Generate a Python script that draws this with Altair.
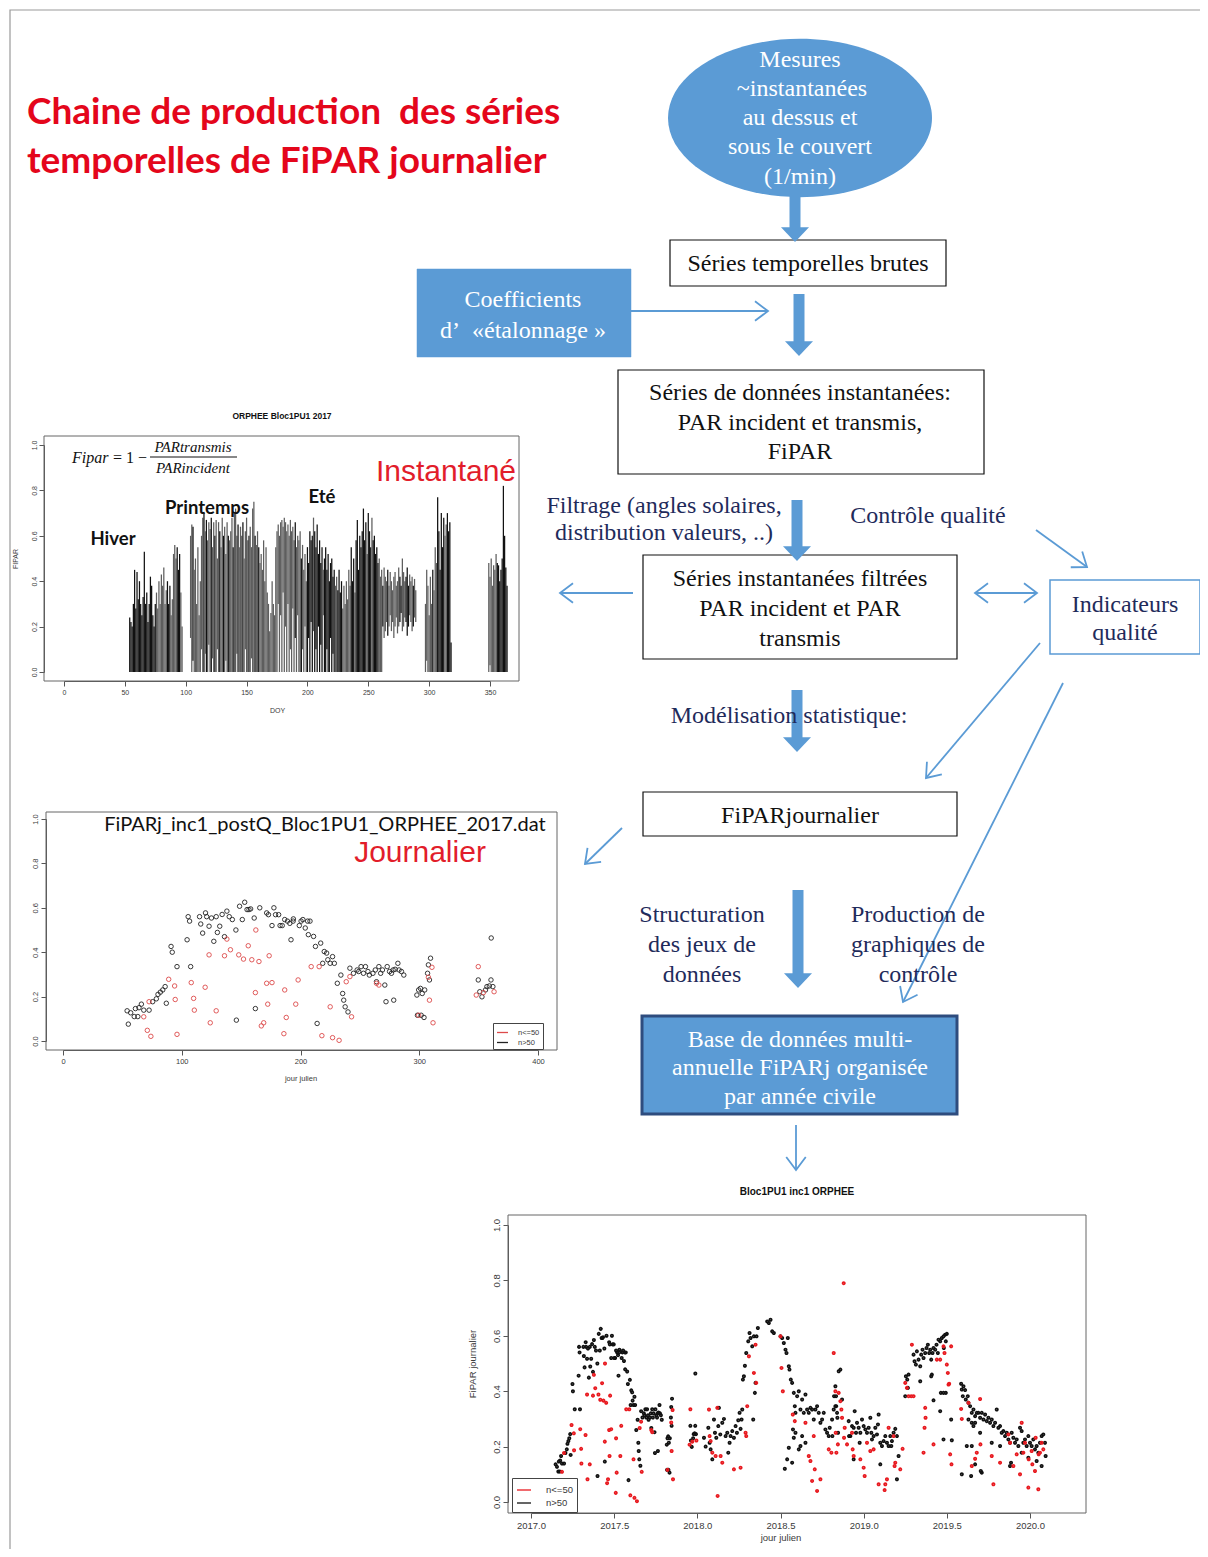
import math
import altair as alt
import pandas as pd

W, H = 1192, 1541
OFF = 8

BLUE = "#5b9bd5"
BLUE_DARK = "#2e4c7e"
NAVY = "#1f2b5b"
TITLE_RED = "#e4061b"
LABEL_RED = "#e21d2b"
PT_RED = "#e8191f"
OPEN_RED = "#dd4a4a"
AX = "#555555"
SERIF = "Liberation Serif"
SANS = "Liberation Sans"
FS = 24

# ---------------- flowchart texts ----------------
TITLE_LINES = ["Chaine de production\u00a0 des séries", "temporelles de FiPAR journalier"]
ELLIPSE_LINES = ["Mesures", "~instantanées", "au dessus et", "sous le couvert", "(1/min)"]
COEF_LINES = ["Coefficients", "d’\u00a0 «étalonnage »"]
BASE_LINES = ["Base de données multi-", "annuelle FiPARj organisée", "par année civile"]
BOX_TEXT_LINES = ["Séries temporelles brutes", "Séries de données instantanées:",
                  "PAR incident et transmis,", "FiPAR", "Séries instantanées filtrées",
                  "PAR incident et PAR", "transmis", "FiPARjournalier"]
NOTE_LINES = ["Filtrage (angles solaires,", "distribution valeurs, ..)", "Contrôle qualité",
              "Indicateurs", "qualité", "Modélisation statistique:", "Structuration",
              "des jeux de", "données", "Production de", "graphiques de", "contrôle"]
SEASON_LABELS = ["Hiver", "Printemps", "Eté"]
PLOT_TAGS = ["Instantané", "Journalier"]
FILE_LABEL = ["FiPARj_inc1_postQ_Bloc1PU1_ORPHEE_2017.dat"]
PLOT_TITLES = ["ORPHEE Bloc1PU1 2017", "Bloc1PU1 inc1 ORPHEE"]
FORMULA = ["Fipar", "= 1 −", "PARtransmis", "PARincident"]

# ---------------- instantaneous FiPAR 2017 (daily envelope, DOY) ----------------
INST_SPANS = [(54, 97), (104, 289), (297, 318), (349, 364)]
INST_MAX_A = [.24, .22, .20, .30, .45, .28, .44, .32, .40, .30,
              .25, .33, .53, .30, .35, .22, .30, .42, .38, .25,
              .20, .30, .35, .28, .40, .30, .43, .38, .46, .30,
              .36, .40, .30, .38, .25, .32, .52, .56, .50, .55,
              .45, .52, .35, .20]
INST_MAX_B = [.60, .65, .64, .45, .50, .30, .55, .25, .40,
              .60, .68, .70, .62, .67, .58, .66, .63, .68, .55, .66,
              .60, .67, .50, .66, .62, .55, .68, .60, .64, .52,
              .66, .60, .58, .62, .68, .55, .70, .72, .60, .65,
              .55, .64, .60, .66, .50, .62, .68, .58, .60, .64,
              .55, .72, .75, .60, .56, .62, .55, .48, .52, .45,
              .58, .40, .55, .35, .30, .18, .26, .40, .30, .25,
              .55, .62, .65, .60, .66, .67, .64, .68, .66, .62,
              .65, .60, .67, .62, .64, .58, .66, .55, .60, .58,
              .62, .50, .56, .45, .52, .40, .55, .48, .62, .58,
              .60, .68, .62, .55, .65, .52, .58, .48, .55, .45,
              .50, .55, .45, .52, .40, .48, .50, .42, .45, .38,
              .42, .36, .45, .35, .40, .28, .38, .30, .40, .32,
              .45, .38, .55, .40, .50, .35, .58, .67, .45, .60,
              .55, .62, .72, .58, .66, .52, .70, .62, .55, .68,
              .58, .60, .52, .55, .48, .50, .42, .45, .38, .46,
              .42, .40, .45, .38, .44, .40, .36, .42, .44, .38,
              .40, .46, .42, .38, .50, .44, .40, .42, .46, .38,
              .43, .40, .42, .38, .41, .36]
INST_MAX_C = [.30, .45, .38, .25, .42, .30, .45, .36, .55, .48,
              .77, .62, .45, .70, .55, .68, .60, .65, .70, .62,
              .66, .13]
INST_MAX_D = [.48, .42, .50, .38, .47, .45, .52, .48, .47, .40,
              .45, .50, .82, .60, .46, .38]
INST_MIN = {104: .15, 106: .05, 113: .10, 116: .08, 119: .12, 122: .06, 126: .10, 133: .05,
            142: .08, 149: .10, 154: .06, 176: .30, 178: .25, 180: .35, 182: .20, 184: .30,
            186: .10, 188: .28, 190: .15, 192: .25, 196: .10, 198: .20, 201: .15, 203: .22,
            205: .18, 207: .10, 209: .20, 211: .12, 213: .25, 216: .10, 219: .15, 221: .08,
            262: .20, 263: .15, 264: .18, 265: .22, 266: .16, 267: .20, 268: .25, 269: .18,
            270: .22, 271: .15, 272: .20, 273: .24, 274: .17, 275: .20, 276: .22, 277: .26,
            278: .18, 279: .20, 280: .24, 281: .22, 282: .16, 283: .20, 284: .25, 285: .22,
            286: .18, 287: .20, 288: .24, 289: .22, 298: .05, 350: .03}
INST_BLACK_SPANS = [(54, 75), (85, 87), (93, 95), (106, 106), (115, 115), (117, 117), (121, 121),
                    (124, 124), (128, 128), (131, 131), (135, 135), (139, 139), (143, 143),
                    (147, 147), (152, 152), (157, 157), (160, 160), (190, 190), (195, 195),
                    (200, 204), (206, 212), (214, 222), (225, 228), (236, 238), (240, 248),
                    (250, 252), (254, 258), (262, 262), (266, 266), (276, 277), (281, 283),
                    (287, 287), (303, 303), (307, 312), (315, 318), (356, 364)]

# ---------------- daily FiPAR 2017 (DOY, value) ----------------
DAILY_BLACK_DOY = [55, 54, 57, 60, 61, 63, 64, 66, 68, 72.5, 75.5, 78.6, 80, 82, 84, 86, 87, 91, 92, 96,
                   104.5, 105.4, 106.6, 107.5, 115, 116, 117.6, 120, 121, 123, 125, 127, 129, 130, 132,
                   134, 136, 138, 140, 142.6, 145.6, 146, 148.7, 151, 153, 155, 156.6, 158, 161, 162,
                   165.7, 171.5, 173, 177.6, 176, 179, 181.6, 182.8, 184.6, 186.7, 189, 191, 193.8, 192,
                   194, 199, 200.5, 202, 204, 206, 208, 206.6, 211, 212.6, 214, 217, 218.7, 220, 222,
                   223, 225, 227, 228.5, 231, 234, 235.5, 236.4, 237.6, 240, 241.6, 244.6, 247.7, 249,
                   251, 253, 254.7, 256.8, 258, 261, 263, 264, 266, 267.5, 269, 271, 273, 275, 276.6,
                   278, 279.7, 282, 283, 285, 287, 272, 278.5, 298, 299.5, 301, 302.5, 304.6, 298.5,
                   301.6, 304, 307, 307.7, 308.6, 309.5, 349.7, 351, 352.8, 355.8, 357, 359, 360.4,
                   360.6, 362]
DAILY_BLACK_VAL = [.076, .136, .127, .11, .146, .11, .15, .166, .139, .139, .177, .19, .21, .22, .23, .245,
                   .17, .426, .40, .335, .456, .56, .54, .335, .56, .527, .486, .577, .56, .517, .554,
                   .449, .56, .489, .517, .57, .47, .585, .56, .547, .50, .094, .607, .547, .625, .592,
                   .592, .595, .554, .146, .60, .577, .569, .60, .52, .569, .569, .52, .52, .547, .54,
                   .53, .54, .456, .55, .52, .54, .547, .509, .54, .54, .479, .471, .426, .079, .441,
                   .35, .403, .396, .366, .35, .38, .35, .26, .297, .214, .184, .154, .131, .328, .305,
                   .32, .313, .335, .305, .335, .313, .297, .305, .32, .267, .335, .305, .32, .252, .335,
                   .313, .305, .32, .323, .35, .32, .313, .297, .177, .184, .207, .23, .237, .214, .23,
                   .116, .116, .106, .305, .343, .275, .373, .275, .222, .199, .23, .245, .248, .275,
                   .464, .245]
DAILY_RED_DOY = [68, 71, 72.5, 74, 89, 94, 94.5, 96, 108, 110, 110.6, 119.7, 123, 124, 129, 136, 141,
                 138, 148, 152, 156, 159, 162, 162.4, 165, 167, 169, 171.5, 172.4, 173.6, 176, 186,
                 186.7, 188, 196, 198, 209, 215.7, 218, 225, 227, 232.5, 238.5, 241.6, 243, 264, 266,
                 299.5, 307.7, 308.6, 310.7, 311.6, 348, 349.7, 354, 363]
DAILY_RED_VAL = [.109, .048, .177, .021, .278, .248, .187, .03, .263, .192, .139, .242, .388, .082, .136,
                 .384, .411, .459, .388, .369, .429, .366, .218, .50, .358, .068, .082, .26, .166, .384,
                 .263, .033, .23, .106, .166, .275, .335, .335, .024, .154, .015, .003, .267, .29, .109,
                 .26, .252, .116, .287, .184, .332, .082, .207, .335, .218, .222]

# ---------------- multi-year FiPARj 2018-2020 (decimal year, value) ----------------
MULTI_BLACK_T = [2018.04, 2018.05, 2018.066, 2018.074, 2018.08, 2018.09, 2018.10, 2018.106, 2018.114,
                 2018.126, 2018.13, 2018.138, 2018.15, 2018.16, 2018.17, 2018.18, 2018.186, 2018.194,
                 2018.20, 2018.21, 2018.22, 2018.23, 2018.238, 2018.246, 2018.254, 2018.26, 2018.27,
                 2018.266, 2018.274, 2018.28, 2018.286, 2018.294, 2018.306, 2018.314, 2018.32, 2018.33,
                 2018.34, 2018.336, 2018.346, 2018.35, 2018.356, 2018.364, 2018.42, 2018.43, 2018.44,
                 2018.45, 2018.46, 2018.50, 2018.51, 2018.52, 2018.53, 2018.536, 2018.544, 2018.55,
                 2018.554, 2018.562, 2018.57, 2018.58, 2018.586, 2018.59, 2018.55, 2018.54, 2018.526,
                 2018.57, 2018.60, 2018.61, 2018.62, 2018.63, 2018.64, 2018.65, 2018.66, 2018.67,
                 2018.68, 2018.69, 2018.70, 2018.71, 2018.72, 2018.73, 2018.74, 2018.75, 2018.76,
                 2018.77, 2018.78, 2018.79, 2018.796, 2018.59, 2018.575, 2018.58, 2018.63, 2018.65,
                 2018.62, 2018.61, 2018.81, 2018.82, 2018.83, 2018.834, 2018.84, 2018.846, 2018.812,
                 2018.822, 2018.83, 2018.835, 2018.85, 2018.86, 2018.842, 2018.87,
                 2018.91, 2018.92, 2018.93, 2018.94, 2018.946, 2018.954, 2018.96, 2018.97, 2018.98,
                 2018.99, 2019.0, 2019.01, 2019.02, 2019.03, 2019.04, 2019.046, 2019.05, 2019.06,
                 2019.07, 2019.08, 2019.086, 2019.09, 2019.10, 2019.11, 2019.12, 2019.13, 2019.14,
                 2019.15, 2019.16, 2019.17, 2019.18, 2019.19, 2019.20, 2019.166, 2018.94, 2019.10,
                 2019.21, 2019.20, 2018.976, 2018.912,
                 2019.254, 2019.262, 2019.266, 2019.25, 2019.27, 2019.30, 2019.306, 2019.314, 2019.32,
                 2019.33, 2019.34, 2019.346, 2019.354, 2019.36, 2019.37, 2019.378, 2019.386, 2019.394,
                 2019.40, 2019.406, 2019.414, 2019.42, 2019.43, 2019.438, 2019.446, 2019.45, 2019.46,
                 2019.47, 2019.48, 2019.49, 2019.50, 2019.494, 2019.482, 2019.34, 2019.406, 2019.41,
                 2019.42, 2019.46, 2019.464, 2019.48, 2019.494, 2019.48, 2019.526, 2019.53,
                 2019.586, 2019.59, 2019.596, 2019.60, 2019.61, 2019.614, 2019.626, 2019.63, 2019.64,
                 2019.65, 2019.66, 2019.67, 2019.68, 2019.69, 2019.70, 2019.71, 2019.72, 2019.73,
                 2019.74, 2019.75, 2019.76, 2019.77, 2019.78, 2019.79, 2019.80, 2019.81, 2019.82,
                 2019.83, 2019.84, 2019.85, 2019.86, 2019.87, 2019.88, 2019.89, 2019.90, 2019.91,
                 2019.92, 2019.93, 2019.94, 2019.95, 2019.96, 2019.97, 2019.98, 2019.99, 2020.0,
                 2020.01, 2020.02, 2020.03, 2020.04, 2020.05, 2020.06, 2020.07, 2020.08, 2020.09,
                 2020.094, 2020.07, 2020.04, 2019.99, 2019.95, 2019.886, 2019.88, 2019.82, 2019.77,
                 2019.70, 2019.65, 2019.67, 2019.62, 2019.65, 2019.67, 2019.704, 2019.71, 2019.646,
                 2019.59, 2019.63, 2019.66]
MULTI_BLACK_V = [.232, .20, .268, .214, .19, .154, .298, .25, .232,
                 .274, .34, .244, .286, .30, .238, .25, .178, .214,
                 .238, .256, .232, .274, .25, .295, .322, .264, .334,
                 .298, .442, .454, .492, .538, .58, .61, .592, .562,
                 .598, .298, .394, .43, .598, .628, .652, .646, .658,
                 .616, .61, .598, .592, .574, .55, .538, .592, .49,
                 .478, .442, .43, .394, .346, .322, .196, .154, .12,
                 .142, .382, .40, .334, .37, .322, .388, .334, .322,
                 .34, .334, .298, .334, .346, .322, .286, .298, .322,
                 .262, .25, .238, .268, .25, .262, .232, .238, .214,
                 .202, .19, .298, .334, .346, .382, .322, .25, .238,
                 .382, .418, .346, .472, .478, .304, .37,
                 .292, .238, .274, .268, .328, .25, .286, .268, .25,
                 .298, .274, .262, .25, .268, .304, .25, .226, .238,
                 .268, .244, .28, .316, .214, .202, .22, .238, .214,
                 .202, .238, .22, .25, .264, .238, .202, .154, .136,
                 .166, .082, .214, .238,
                 .454, .442, .412, .382, .46, .532, .508, .496, .544,
                 .514, .49, .532, .55, .52, .538, .556, .568, .538,
                 .55, .514, .538, .556, .55, .568, .538, .586, .58,
                 .592, .598, .604, .607, .58, .556, .436, .454, .46,
                 .367, .328, .394, .394, .394, .226, .298, .223,
                 .427, .406, .382, .418, .404, .37, .382, .358, .346,
                 .322, .334, .31, .322, .322, .304, .322, .298, .316,
                 .292, .304, .286, .298, .274, .286, .334, .268, .274,
                 .25, .256, .238, .25, .226, .214, .25, .232, .214,
                 .226, .202, .268, .256, .214, .226, .202, .238, .214,
                 .202, .226, .19, .202, .178, .214, .238, .244, .214,
                 .166, .13, .148, .16, .178, .142, .13, .202, .214,
                 .25, .286, .286, .202, .202, .136, .112, .106, .094,
                 .10, .298, .274]
MULTI_RED_T = [2018.07, 2018.074, 2018.08, 2018.09, 2018.11, 2018.12, 2018.122, 2018.14, 2018.15,
               2018.22, 2018.26, 2018.29, 2018.294, 2018.30, 2018.31, 2018.34, 2018.35, 2018.354,
               2018.50, 2018.506, 2018.514, 2018.574, 2018.586, 2018.65, 2018.67, 2018.68, 2018.69,
               2018.706, 2018.72, 2018.74, 2018.70, 2018.79, 2018.806, 2018.82, 2018.83, 2018.85,
               2018.86, 2018.866, 2018.87, 2018.832, 2018.88, 2018.845, 2018.836, 2018.886, 2018.90,
               2018.882, 2018.93, 2018.934, 2018.94, 2018.98, 2019.0, 2019.006, 2019.02, 2019.04,
               2019.06, 2019.09, 2019.13, 2019.126, 2019.14, 2019.15, 2019.18, 2019.19, 2019.186,
               2019.22, 2019.234, 2019.25, 2019.26, 2019.27, 2019.286, 2019.30, 2019.29, 2019.37,
               2019.372, 2019.366, 2019.36, 2019.42, 2019.44, 2019.46, 2019.48, 2019.486, 2019.50,
               2019.506, 2019.51, 2019.514, 2019.526, 2019.52, 2019.528, 2019.586, 2019.59, 2019.63,
               2019.65, 2019.67, 2019.68, 2019.70, 2019.702, 2019.77, 2019.78, 2019.82, 2019.87,
               2019.88, 2019.90, 2019.92, 2019.94, 2019.95, 2019.96, 2019.97, 2019.99, 2019.992,
               2020.01, 2020.014, 2020.03, 2020.034, 2020.05, 2020.052, 2020.06, 2020.07, 2020.08]
MULTI_RED_V = [.334, .238, .22, .178, .166, .34, .022, .166, .142,
               .118, .124, .25, .238, .346, .526, .466, .568, .43,
               .598, .484, .40, .316, .292, .286, .166, .148, .076,
               .118, .04, .082, .238, .19, .178, .538, .40, .394,
               .364, .334, .304, .25, .79, .208, .178, .268, .208,
               .232, .25, .19, .166, .154, .124, .094, .214, .184,
               .19, .064, .064, .043, .082, .268, .238, .142, .13,
               .118, .192, .43, .412, .382, .382, .382, .568, .34,
               .304, .268, .178, .208, .514, .514, .562, .538, .496,
               .466, .424, .427, .562, .172, .136, .336, .30, .358,
               .13, .156, .178, .372, .208, .166, .064, .142, .244,
               .214, .13, .172, .10, .286, .178, .214, .052, .154,
               .184, .136, .112, .232, .046, .172, .178, .214, .19]

GROUPS = ["n<=50", "n>50"]

# ---------------- layout (reference pixel coordinates) ----------------
TITLE_POS = [(27, 113), (27, 162)]
ELLIPSE_POS = [(800, 60), (802, 89), (800, 118), (800, 147), (800, 177)]
ELLIPSE_CENTER = (800, 118)
COEF_POS = [(523, 300), (523, 331)]
BASE_POS = [(800, 1040), (800, 1068), (800, 1097)]
BOX_TEXT_POS = [(808, 264), (800, 393), (800, 423), (800, 452), (800, 579), (800, 609),
                (800, 639), (800, 816)]
NOTE_POS = [(664, 506), (664, 533), (928, 516), (1125, 605), (1125, 633), (789, 716),
            (702, 915), (702, 945), (702, 975), (918, 915), (918, 945), (918, 975)]
SEASON_POS = [(113, 539), (207, 508), (322, 497)]
TAG_POS = [(446, 472), (420, 853)]
FILE_POS = [(325, 825)]
PLOT_TITLE_POS = [(282, 416), (797, 1192)]
FORMULA_POS = [(72, 458), (113, 458), (193, 447), (193, 468)]
FRACTION_BAR = (150, 237, 457)
BOX_RECTS = [
    (670, 946, 240, 286, "white", "#111111", 1.2),
    (417, 631, 269, 357, BLUE, BLUE, 0.5),
    (618, 984, 370, 474, "white", "#111111", 1.2),
    (643, 957, 555, 659, "white", "#111111", 1.2),
    (1050, 1200, 580, 654, "white", BLUE, 1.5),
    (643, 957, 792, 836, "white", "#111111", 1.2),
    (642, 957, 1016, 1114, BLUE, BLUE_DARK, 3),
]
THICK_ARROWS = [(795, 196, 242), (799, 294, 356), (797, 500, 561), (797, 690, 752), (798, 890, 988)]
THIN_ARROWS = [  # x1, y1, x2, y2, head at end, head at start
    (631, 311, 768, 311, 1, 0),
    (633, 593, 560, 593, 1, 0),
    (975, 593, 1037, 593, 1, 1),
    (1036, 530, 1087, 567, 1, 0),
    (1040, 643, 926, 778, 1, 0),
    (1063, 683, 903, 1002, 1, 0),
    (622, 828, 585, 864, 1, 0),
    (796, 1125, 796, 1170, 1, 0),
]
FRAMES = [(44, 519, 436, 681), (46, 557, 812, 1050), (508, 1086, 1215, 1513)]
OUTER = (10, 1205, 10, 1560)

# ---------------- helpers ----------------
def fx(f):
    return alt.X(f, type="quantitative",
                 scale=alt.Scale(domain=[OFF, OFF + W], range=[0, W], nice=False, zero=False),
                 axis=None)


def fy(f):
    return alt.Y(f, type="quantitative",
                 scale=alt.Scale(domain=[OFF, OFF + H], range=[0, H], nice=False, zero=False),
                 axis=None)


def text_layer(lines, pos, font, size, color, weight="normal", style="normal", align="center"):
    df = pd.DataFrame({"t": lines, "x": [p[0] for p in pos], "y": [p[1] for p in pos]})
    return alt.Chart(df).mark_text(font=font, fontSize=size, color=color, fontWeight=weight,
                                   fontStyle=style, align=align, baseline="middle").encode(
        x=fx("x"), y=fy("y"), text="t:N")


AXIS_STYLE = dict(grid=False, domainColor=AX, tickColor=AX, labelColor="#3a3a3a", labelFont=SANS,
                  titleFont=SANS, titleFontWeight="normal", titleColor="#3a3a3a", tickSize=5,
                  labelFlush=False, labelOverlap=False, labelPadding=2)


def sub_x(field, domain, r0, r1, axis_y, values, fmt, title, size=8, tpad=10):
    return alt.X(field, type="quantitative",
                 scale=alt.Scale(domain=domain, range=[r0 - OFF, r1 - OFF], nice=False, zero=False),
                 axis=alt.Axis(orient="bottom", offset=(axis_y - OFF) - H, values=values, format=fmt,
                               title=title, labelFontSize=size, titleFontSize=size,
                               titlePadding=tpad, **AXIS_STYLE))


def sub_y(field, r0, r1, axis_x, title, size=8, tpad=10):
    return alt.Y(field, type="quantitative",
                 scale=alt.Scale(domain=[0, 1], range=[r0 - OFF, r1 - OFF], nice=False, zero=False),
                 axis=alt.Axis(orient="left", offset=-(axis_x - OFF), values=[0, 0.2, 0.4, 0.6, 0.8, 1.0],
                               format=".1f", labelAngle=270, labelAlign="center", labelBaseline="bottom",
                               title=title, labelFontSize=size, titleFontSize=size, titlePadding=tpad,
                               **AXIS_STYLE))


layers = []

# outer border
layers.append(alt.Chart(pd.DataFrame([dict(x1=OUTER[0], x2=OUTER[1], y1=OUTER[2], y2=OUTER[3])]))
              .mark_rect(fill="transparent", stroke="#9a9a9a", strokeWidth=1.2)
              .encode(x=fx("x1"), x2="x2", y=fy("y1"), y2="y2"))

# title
layers.append(text_layer(TITLE_LINES, TITLE_POS, "Lato", 37, TITLE_RED, weight="bold", align="left"))

# ellipse
c = 0.5523
r = 0.6
ELL_PATH = (f"M -1 0 C -1 {-c*r:.4f} {-c:.4f} {-r} 0 {-r} C {c:.4f} {-r} 1 {-c*r:.4f} 1 0 "
            f"C 1 {c*r:.4f} {c:.4f} {r} 0 {r} C {-c:.4f} {r} -1 {c*r:.4f} -1 0 Z")
layers.append(alt.Chart(pd.DataFrame({"x": [ELLIPSE_CENTER[0]], "y": [ELLIPSE_CENTER[1]]}))
              .mark_point(shape=ELL_PATH, size=264 ** 2, filled=True, color=BLUE, opacity=1, strokeWidth=0)
              .encode(x=fx("x"), y=fy("y")))

# boxes
box_df = pd.DataFrame(BOX_RECTS, columns=["x1", "x2", "y1", "y2", "fill", "stroke", "sw"])
layers.append(alt.Chart(box_df).mark_rect().encode(
    x=fx("x1"), x2="x2", y=fy("y1"), y2="y2",
    fill=alt.Fill("fill:N", scale=None), stroke=alt.Stroke("stroke:N", scale=None),
    strokeWidth=alt.StrokeWidth("sw:Q", scale=None)))

# thick arrows
ta = pd.DataFrame(THICK_ARROWS, columns=["x", "y1", "y2"])
ta["ys"] = ta["y2"] - 13
layers.append(alt.Chart(ta).mark_rule(strokeWidth=11, color=BLUE).encode(x=fx("x"), y=fy("y1"), y2="ys"))
layers.append(alt.Chart(ta).mark_point(shape="M -1 -1.05 L 1 -1.05 L 0 0 Z", size=28 ** 2, filled=True,
                                       color=BLUE, opacity=1, strokeWidth=0)
              .encode(x=fx("x"), y=fy("y2")))

# thin arrows
tn = pd.DataFrame(THIN_ARROWS, columns=["x1", "y1", "x2", "y2", "he", "hs"])
layers.append(alt.Chart(tn).mark_rule(strokeWidth=1.8, color=BLUE).encode(
    x=fx("x1"), x2="x2", y=fy("y1"), y2="y2"))
heads = []
for a in THIN_ARROWS:
    x1, y1, x2, y2, he, hs = a
    ang = math.degrees(math.atan2(y2 - y1, x2 - x1)) % 360
    if he:
        heads.append(dict(x=x2, y=y2, ang=ang))
    if hs:
        heads.append(dict(x=x1, y=y1, ang=(ang + 180) % 360))
layers.append(alt.Chart(pd.DataFrame(heads)).mark_point(
    shape="M -1 -0.75 L 0 0 L -1 0.75", size=26 ** 2, filled=False, color=BLUE, opacity=1, strokeWidth=1.8)
    .encode(x=fx("x"), y=fy("y"), angle=alt.Angle("ang:Q", scale=None)))

# flowchart texts
layers.append(text_layer(ELLIPSE_LINES, ELLIPSE_POS, SERIF, FS, "white"))
layers.append(text_layer(COEF_LINES, COEF_POS, SERIF, FS, "white"))
layers.append(text_layer(BASE_LINES, BASE_POS, SERIF, FS, "white"))
layers.append(text_layer(BOX_TEXT_LINES, BOX_TEXT_POS, SERIF, FS, "#111111"))
layers.append(text_layer(NOTE_LINES, NOTE_POS, SERIF, FS, NAVY))

# plot frames
fr = pd.DataFrame(FRAMES, columns=["x1", "x2", "y1", "y2"])
layers.append(alt.Chart(fr).mark_rect(fill="transparent", stroke="#666666", strokeWidth=1)
              .encode(x=fx("x1"), x2="x2", y=fy("y1"), y2="y2"))

# ---------- instantaneous plot ----------
inst_rows = []
max_lists = [INST_MAX_A, INST_MAX_B, INST_MAX_C, INST_MAX_D]
for (d0, d1), vals in zip(INST_SPANS, max_lists):
    for d, v in zip(range(d0, d1 + 1), vals):
        black = any(b0 <= d <= b1 for b0, b1 in INST_BLACK_SPANS)
        inst_rows.append(dict(doy=d, lo=INST_MIN.get(d, 0.0), hi=v,
                              c="#111111" if black else "#5e5e5e"))
inst_df = pd.DataFrame(inst_rows)
layers.append(alt.Chart(inst_df).mark_rule(strokeWidth=1.25).encode(
    x=sub_x("doy", [0, 350], 64, 490, 681, list(range(0, 351, 50)), "d", "DOY", size=7, tpad=11),
    y=sub_y("lo", 672, 445, 44, "FIPAR", size=7, tpad=12),
    y2="hi:Q",
    color=alt.Color("c:N", scale=None)))

# ---------- daily 2017 plot ----------
daily_df = pd.concat([
    pd.DataFrame({"doy": DAILY_BLACK_DOY, "v": DAILY_BLACK_VAL, "grp": "n>50"}),
    pd.DataFrame({"doy": DAILY_RED_DOY, "v": DAILY_RED_VAL, "grp": "n<=50"}),
], ignore_index=True)
LEG = dict(orient="none", symbolType="stroke", symbolStrokeWidth=1.3, labelFont=SANS,
           labelColor="#3a3a3a", strokeColor="#444444", fillColor="white", rowPadding=0, title=None)
layers.append(alt.Chart(daily_df).mark_point(filled=False, size=20, strokeWidth=0.9, opacity=1).encode(
    x=sub_x("doy", [0, 400], 63, 538, 1050, [0, 100, 200, 300, 400], "d", "jour julien", size=7.5, tpad=10),
    y=sub_y("v", 1041, 819, 46, "", size=7.5),
    color=alt.Color("grp:N", scale=alt.Scale(domain=GROUPS, range=[OPEN_RED, "#222222"]),
                    legend=alt.Legend(legendX=493 - OFF, legendY=1023 - OFF, labelFontSize=7.5,
                                      symbolSize=121, padding=3, labelOffset=9, **LEG))))

# ---------- multi-year plot ----------
multi_df = pd.concat([
    pd.DataFrame({"t": [2017 + d / 365 for d in DAILY_BLACK_DOY], "v": DAILY_BLACK_VAL, "grp": "n>50"}),
    pd.DataFrame({"t": [2017 + d / 365 for d in DAILY_RED_DOY], "v": DAILY_RED_VAL, "grp": "n<=50"}),
    pd.DataFrame({"t": MULTI_BLACK_T, "v": MULTI_BLACK_V, "grp": "n>50"}),
    pd.DataFrame({"t": MULTI_RED_T, "v": MULTI_RED_V, "grp": "n<=50"}),
], ignore_index=True)
layers.append(alt.Chart(multi_df).mark_point(filled=False, size=3, strokeWidth=2.3, opacity=1).encode(
    x=sub_x("t", [2017, 2020], 531, 1030, 1513, [2017.0, 2017.5, 2018.0, 2018.5, 2019.0, 2019.5, 2020.0],
            ".1f", "jour julien", size=9.5, tpad=3),
    y=sub_y("v", 1502, 1225, 508, "FiPAR journalier", size=9.5, tpad=14),
    color=alt.Color("grp:N", scale=alt.Scale(domain=GROUPS, range=[PT_RED, "#111111"]),
                    legend=alt.Legend(legendX=512 - OFF, legendY=1478 - OFF, labelFontSize=9.5,
                                      symbolSize=196, padding=4, labelOffset=14, **LEG))))

# ---------- plot annotations ----------
layers.append(text_layer(PLOT_TITLES[:1], PLOT_TITLE_POS[:1], SANS, 8.5, "#111111", weight="bold"))
layers.append(text_layer(PLOT_TITLES[1:], PLOT_TITLE_POS[1:], SANS, 10, "#111111", weight="bold"))
layers.append(text_layer(SEASON_LABELS, SEASON_POS, "Lato", 18.5, "#111111", weight="bold"))
layers.append(text_layer(PLOT_TAGS, TAG_POS, SANS, 30, LABEL_RED))
layers.append(text_layer(FILE_LABEL, FILE_POS, "Lato", 20, "#111111"))
layers.append(text_layer(FORMULA[:1], FORMULA_POS[:1], SERIF, 16, "#111111", style="italic", align="left"))
layers.append(text_layer(FORMULA[1:2], FORMULA_POS[1:2], SERIF, 16, "#111111", align="left"))
layers.append(text_layer(FORMULA[2:], FORMULA_POS[2:], SERIF, 15, "#111111", style="italic"))
fb = pd.DataFrame([dict(x1=FRACTION_BAR[0], x2=FRACTION_BAR[1], y=FRACTION_BAR[2])])
layers.append(alt.Chart(fb).mark_rule(strokeWidth=1, color="#111111").encode(x=fx("x1"), x2="x2", y=fy("y")))

chart = (alt.layer(*layers)
         .resolve_scale(x="independent", y="independent", color="independent")
         .resolve_axis(x="independent", y="independent")
         .resolve_legend(color="independent")
         .properties(width=W, height=H, autosize=alt.AutoSizeParams(type="none"), padding=0,
                     background="white")
         .configure_view(strokeWidth=0))

chart.save("out.html", embed_options={"renderer": "svg", "actions": False})
